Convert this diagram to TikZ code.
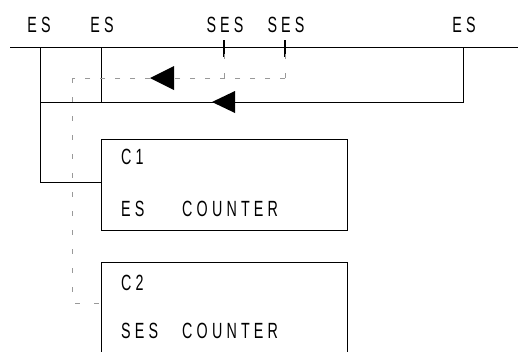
\documentclass[tikz,border=0pt]{standalone}
\usepackage{fontspec}
\newfontfamily\ladderfont[FakeStretch=0.65,LetterSpace=19]{Liberation Sans}
\usetikzlibrary{positioning}

\tikzset{
  rung/.style={line width=0.9pt},
  signal/.style={gray!80, line width=0.9pt, dash pattern=on 5pt off 10pt},
  signalv/.style={gray!80, line width=0.9pt, dash pattern=on 5pt off 14pt},
  contact/.style={line width=2.6pt},
  lbl/.style={font=\ladderfont\fontsize{22}{22}\selectfont, inner sep=0pt, anchor=base},
  boxtext/.style={lbl, anchor=base west},
  counterbox/.style={draw, rung, minimum width=246pt, inner sep=0pt, anchor=north west},
}

\begin{document}
\begin{tikzpicture}[x=1pt,y=1pt,yscale=-1]
    \useasboundingbox (0,0) rectangle (518,351);
    \clip (0,0) rectangle (518,351);

    % rail taps
    \coordinate (tapA) at (40,47);
    \coordinate (tapB) at (101,47);
    \coordinate (sesA) at (224,47);
    \coordinate (sesB) at (285,47);
    \coordinate (tapE) at (463,47);
    \coordinate (jA) at (40,102);
    \coordinate (jB) at (101,102);
    \coordinate (sigA) at (224,78);
    \coordinate (sigB) at (285,78);
    \coordinate (sigL) at (72,78);

    % Text Node
    \node[lbl] (esA) at (39,32) {ES};
    \node[lbl] (esB) at (102,32) {ES};
    \node[lbl] (sesLA) at (225,32) {SES};
    \node[lbl] (sesLB) at (286,32) {SES};
    \node[lbl] (esE) at (464,32) {ES};

    % counters
    \node[counterbox, minimum height=91pt] (c1) at (101,139) {};
    \node[counterbox, minimum height=110pt] (c2) at (101,262) {};
    \node[boxtext] (c1name) at (121,164.5) {C1};
    \node[boxtext] (c1text) at (121,216) {\makebox[61pt][l]{ES}COUNTER};
    \node[boxtext] (c2name) at (121,290.5) {C2};
    \node[boxtext] (c2text) at (121,338) {\makebox[61pt][l]{SES}COUNTER};

    %Straight Lines: rail
    \draw[rung] (10,47) -- (518,47);
    %Straight Lines: contacts
    \draw[contact] ([yshift=-7pt]sesA) -- ([yshift=10pt]sesA);
    \draw[contact] ([yshift=-7pt]sesB) -- ([yshift=10pt]sesB);

    %Straight Lines: ES loop
    \draw[rung] (tapE) |- (jA);
    \draw[rung] (tapB) -- (jB);
    \draw[rung] (tapA) |- ([yshift=43pt]c1.north west);
    \fill (212,102) -- ++(23,11) -- ++(0,-22) -- cycle;

    %Dashed Lines: SES loop
    \draw[signalv] (sigA) -- (sesA);
    \draw[signalv] (sigB) -- (sesB);
    \draw[signal] (sigB) -- (sigL);
    \draw[signalv] (sigL) |- ([yshift=41pt]c2.north west);
    \fill (150,78) -- ++(24,12) -- ++(0,-24) -- cycle;
\end{tikzpicture}
\end{document}
